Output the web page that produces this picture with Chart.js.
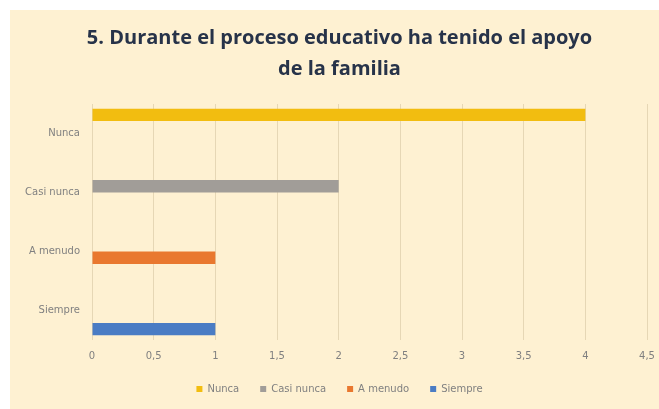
<!DOCTYPE html>
<html>
<head>
<meta charset="utf-8">
<script src="https://cdn.jsdelivr.net/npm/chart.js"></script>
<style>
  html, body { margin: 0; padding: 0; background: #ffffff; }
  #wrap { position: absolute; left: 10px; top: 10px; width: 649px; height: 399px; background: #fef1d2; }
  canvas { display: block; }
</style>
</head>
<body>
<div id="wrap"><canvas id="c" width="649" height="399"></canvas></div>
<script>
const titleLines = ['5. Durante el proceso educativo ha tenido el apoyo', 'de la familia'];
const categories = ['Nunca', 'Casi nunca', 'A menudo', 'Siempre'];
const seriesNames = ['Nunca', 'Casi nunca', 'A menudo', 'Siempre'];
const nuncaValues = [4, null, null, null];
const casiNuncaValues = [null, 2, null, null];
const aMenudoValues = [null, null, 1, null];
const siempreValues = [null, null, null, 1];
const xTicks = [0, 0.5, 1, 1.5, 2, 2.5, 3, 3.5, 4, 4.5];
const xTickLabels = ['0', '0,5', '1', '1,5', '2', '2,5', '3', '3,5', '4', '4,5'];

const colors = ['#f2bd10', '#a19d98', '#e9782f', '#4a7cc4'];
const seriesValues = [nuncaValues, casiNuncaValues, aMenudoValues, siempreValues];
const smallFont = { family: 'DejaVu Sans', size: 10 };
const LEGEND_SHIFT = 9;

// Let the legend take less vertical room while keeping its horizontal item spacing
const legendNudge = {
  id: 'legendNudge',
  beforeLayout(chart) {
    const lg = chart.legend;
    if (lg && !lg.__patched) {
      lg.__patched = true;
      const fit = lg.fit.bind(lg);
      lg.fit = function () { fit(); this.height -= LEGEND_SHIFT; };
      const draw = lg.draw.bind(lg);
      lg.draw = function (a) { this.top -= LEGEND_SHIFT; draw(a); this.top += LEGEND_SHIFT; };
    }
  }
};

const ctx = document.getElementById('c');
new Chart(ctx, {
  type: 'bar',
  data: {
    labels: categories,
    datasets: seriesNames.map((n, i) => ({
      label: n,
      data: seriesValues[i],
      backgroundColor: colors[i],
      borderWidth: 0,
      categoryPercentage: 0.84,
      barPercentage: 1.0
    }))
  },
  options: {
    indexAxis: 'y',
    responsive: false,
    animation: false,
    layout: { padding: { left: 10, right: 0, top: 0, bottom: 5 } },
    plugins: {
      title: {
        display: true,
        text: titleLines,
        color: '#273349',
        font: { family: 'Open Sans', size: 20, weight: 'bold', lineHeight: '31px' },
        padding: { top: 12.5, bottom: 19.5 }
      },
      legend: {
        position: 'bottom',
        labels: {
          boxWidth: 6, boxHeight: 6,
          color: '#808080',
          font: smallFont,
          padding: 21
        }
      },
      tooltip: { enabled: false }
    },
    scales: {
      x: {
        min: 0, max: 4.5,
        afterBuildTicks: (axis) => { axis.ticks = xTicks.map(v => ({ value: v })); },
        afterFit: (axis) => { axis.paddingRight = 12; },
        ticks: {
          callback: (v) => xTickLabels[xTicks.indexOf(v)],
          color: '#808080',
          font: smallFont,
          padding: 10,
          maxRotation: 0
        },
        grid: { color: '#e6d7b5', drawTicks: false },
        border: { display: false }
      },
      y: {
        afterFit: (axis) => { axis.width = 72; },
        ticks: {
          color: '#808080',
          font: smallFont,
          padding: 4
        },
        grid: { display: false },
        border: { display: false }
      }
    }
  },
  plugins: [legendNudge]
});
</script>
</body>
</html>
